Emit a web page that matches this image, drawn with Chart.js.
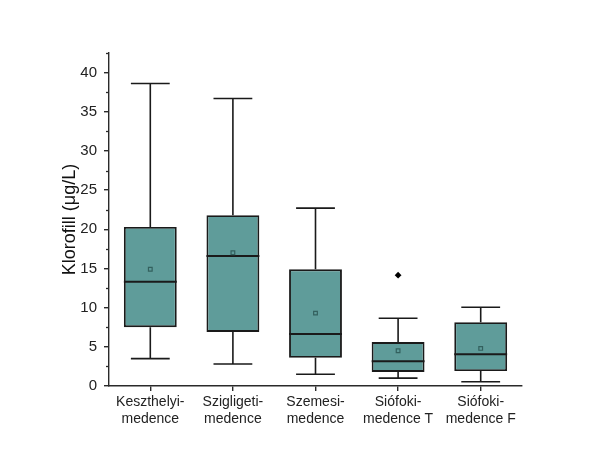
<!DOCTYPE html>
<html>
<head>
<meta charset="utf-8">
<script src="https://cdn.jsdelivr.net/npm/chart.js@4/dist/chart.umd.min.js"></script>
<style>
html,body{margin:0;padding:0;background:#fff;}
#wrap{width:605px;height:463px;}
</style>
</head>
<body>
<div id="wrap"><canvas id="c" width="605" height="463"></canvas></div>
<script>
const categories = [["Keszthelyi-","medence"],["Szigligeti-","medence"],["Szemesi-","medence"],["Siófoki-","medence T"],["Siófoki-","medence F"]];
const whiskerLow  = [3.5, 2.8, 1.5, 1.0, 0.55];
const q1          = [7.5, 6.9, 3.6, 1.8, 1.9];
const median      = [13.3, 16.6, 6.65, 3.15, 4.05];
const q3          = [20.3, 21.8, 14.9, 5.6, 8.15];
const whiskerHigh = [38.6, 36.7, 22.7, 8.65, 10.05];
const means       = [14.9, 17.0, 9.3, 4.5, 4.8];
const outliers    = [null, null, null, 14.15, null];
const yTicks      = [0, 5, 10, 15, 20, 25, 30, 35, 40];

const TEAL = '#5f9c9a';
const DARK = '#1a1a1a';
const AXIS = '#2a2a2a';

const boxPlugin = {
  id: 'boxParts',
  beforeDatasetsDraw(chart) {
    const ctx = chart.ctx, x = chart.scales.x, y = chart.scales.y;
    const catW = x.getPixelForValue(1) - x.getPixelForValue(0);
    ctx.save();
    ctx.strokeStyle = DARK;
    ctx.lineWidth = 1.6;
    for (let i = 0; i < categories.length; i++) {
      const cx = x.getPixelForValue(i);
      const half = catW * 0.235;
      ctx.beginPath();
      ctx.moveTo(cx, y.getPixelForValue(q3[i]));
      ctx.lineTo(cx, y.getPixelForValue(whiskerHigh[i]));
      ctx.moveTo(cx, y.getPixelForValue(q1[i]));
      ctx.lineTo(cx, y.getPixelForValue(whiskerLow[i]));
      const yh = y.getPixelForValue(whiskerHigh[i]);
      const yl = y.getPixelForValue(whiskerLow[i]);
      ctx.moveTo(cx - half, yh); ctx.lineTo(cx + half, yh);
      ctx.moveTo(cx - half, yl); ctx.lineTo(cx + half, yl);
      ctx.stroke();
    }
    ctx.restore();
  },
  afterDatasetDraw(chart, args) {
    if (args.index !== 0) return;
    const ctx = chart.ctx, y = chart.scales.y;
    const meta = chart.getDatasetMeta(0);
    ctx.save();
    ctx.strokeStyle = DARK;
    ctx.lineWidth = 2;
    meta.data.forEach((bar, i) => {
      const w = bar.width;
      const ym = y.getPixelForValue(median[i]);
      ctx.beginPath();
      ctx.moveTo(bar.x - w / 2, ym);
      ctx.lineTo(bar.x + w / 2, ym);
      ctx.stroke();
    });
    ctx.restore();
  },
  afterDraw(chart) {
    const ctx = chart.ctx, y = chart.scales.y;
    const left = chart.chartArea.left;
    ctx.save();
    ctx.strokeStyle = AXIS;
    ctx.lineWidth = 1.3;
    for (let v = 2.5; v <= y.max + 0.001; v += 5) {
      const py = Math.round(y.getPixelForValue(v)) + 0.5;
      ctx.beginPath();
      ctx.moveTo(left, py);
      ctx.lineTo(left - 3, py);
      ctx.stroke();
    }
    ctx.restore();
  }
};

new Chart(document.getElementById('c'), {
  type: 'bar',
  data: {
    labels: categories,
    datasets: [
      {
        label: 'box',
        data: q1.map((v, i) => [v, q3[i]]),
        backgroundColor: TEAL,
        borderColor: DARK,
        borderWidth: 1.9,
        borderSkipped: false,
        barPercentage: 0.64,
        categoryPercentage: 1.0,
        order: 2
      },
      {
        type: 'line',
        label: 'mean',
        data: means,
        showLine: false,
        pointStyle: 'rect',
        pointRadius: 2.6,
        pointBackgroundColor: TEAL,
        pointBorderColor: '#33605e',
        pointBorderWidth: 1.2,
        order: 1
      },
      {
        type: 'line',
        label: 'outlier',
        data: outliers,
        showLine: false,
        pointStyle: 'rectRot',
        pointRadius: 3.4,
        pointBackgroundColor: '#000',
        pointBorderColor: '#000',
        pointBorderWidth: 0,
        order: 0
      }
    ]
  },
  options: {
    responsive: false,
    animation: false,
    events: [],
    layout: { padding: { left: 55, top: 53, right: 83, bottom: 0 } },
    plugins: { legend: { display: false }, tooltip: { enabled: false } },
    scales: {
      x: {
        type: 'category',
        offset: true,
        grid: { display: true, drawOnChartArea: false, drawTicks: true, tickLength: 5, offset: false, color: AXIS, lineWidth: 1.4 },
        border: { display: true, color: AXIS, width: 1.4 },
        ticks: { color: '#222', padding: 3, maxRotation: 0, autoSkip: false, font: { family: 'Liberation Sans, Arial, sans-serif', size: 14, lineHeight: 1.2 } },
        afterFit(s) { s.height = 77; }
      },
      y: {
        min: 0,
        max: 42.5,
        afterBuildTicks(s) { s.ticks = yTicks.map(v => ({ value: v })); },
        grid: { display: true, drawOnChartArea: false, drawTicks: true, tickLength: 5, color: AXIS, lineWidth: 1.4 },
        border: { display: true, color: AXIS, width: 1.4 },
        ticks: { color: '#222', padding: 7, font: { family: 'Liberation Sans, Arial, sans-serif', size: 15 } },
        title: { display: true, text: 'Klorofill (μg/L)', color: '#111', padding: { top: 4, bottom: 0 }, font: { family: 'Liberation Sans, Arial, sans-serif', size: 18, weight: 'normal' } },
        afterFit(s) { s.width = 54; }
      }
    }
  },
  plugins: [boxPlugin]
});
</script>
</body>
</html>
